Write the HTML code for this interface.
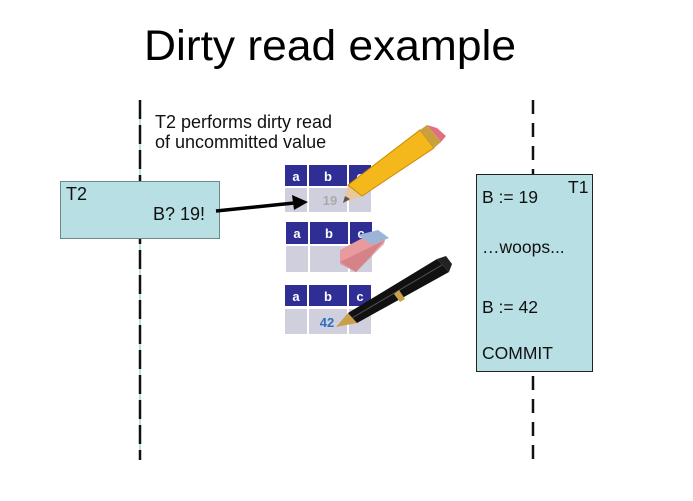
<!DOCTYPE html>
<html><head><meta charset="utf-8"><style>
html,body{margin:0;padding:0;background:#fff;}
svg{display:block;font-family:"Liberation Sans",Arial,sans-serif;}
</style></head><body>
<svg width="693" height="501" viewBox="0 0 693 501" xmlns="http://www.w3.org/2000/svg">
<text x="144" y="60" font-size="43" textLength="372" lengthAdjust="spacingAndGlyphs" fill="#000">Dirty read example</text>
<!-- lifelines -->
<line x1="140" y1="100" x2="140" y2="460" stroke="#b8e0e4" stroke-width="2"/>
<line x1="140" y1="100" x2="140" y2="460" stroke="#111" stroke-width="2.5" stroke-dasharray="19,6"/>
<line x1="533" y1="100" x2="533" y2="461" stroke="#111" stroke-width="2.5" stroke-dasharray="14,9"/>
<text x="155" y="128" font-size="18" fill="#111">T2 performs dirty read</text>
<text x="155" y="148" font-size="18" fill="#111">of uncommitted value</text>
<!-- T2 box -->
<rect x="60.5" y="181.5" width="159" height="57" fill="#b8e0e4" stroke="#6a8a8c" stroke-width="1"/>
<text x="66" y="200" font-size="18" fill="#111">T2</text>
<text x="153" y="220" font-size="18" fill="#111">B? 19!</text>
<!-- T1 box -->
<rect x="476.5" y="174.5" width="116" height="197" fill="#b8e0e4" stroke="#222" stroke-width="1"/>
<text x="568" y="193" font-size="17.5" fill="#111">T1</text>
<text x="482" y="203" font-size="17.5" fill="#111">B := 19</text>
<text x="482" y="253" font-size="17.5" fill="#111">…woops...</text>
<text x="482" y="313" font-size="17.5" fill="#111">B := 42</text>
<text x="482" y="359" font-size="17.5" fill="#111">COMMIT</text>
<!-- tables -->
<g font-size="13" font-weight="bold" fill="#fff" text-anchor="middle">
<g>
<rect x="285" y="165" width="22" height="21" fill="#2e2e94"/><rect x="309" y="165" width="38" height="21" fill="#2e2e94"/><rect x="349" y="165" width="22" height="21" fill="#2e2e94"/>
<rect x="285" y="188" width="22" height="24" fill="#cfcfdd"/><rect x="309" y="188" width="38" height="24" fill="#cfcfdd"/><rect x="349" y="188" width="22" height="24" fill="#cfcfdd"/>
<text x="296" y="181">a</text><text x="328" y="181">b</text><text x="360" y="181">c</text>
<text x="330" y="205" fill="#aaa">19</text>
</g>
<g>
<rect x="286" y="222" width="22" height="22" fill="#2e2e94"/><rect x="310" y="222" width="38" height="22" fill="#2e2e94"/><rect x="350" y="222" width="22" height="22" fill="#2e2e94"/>
<rect x="286" y="246" width="22" height="26" fill="#cfcfdd"/><rect x="310" y="246" width="38" height="26" fill="#cfcfdd"/><rect x="350" y="246" width="22" height="26" fill="#cfcfdd"/>
<text x="297" y="238">a</text><text x="329" y="238">b</text><text x="361" y="238">c</text>
</g>
<g>
<rect x="285" y="285" width="22" height="21" fill="#2e2e94"/><rect x="309" y="285" width="38" height="21" fill="#2e2e94"/><rect x="349" y="285" width="22" height="21" fill="#2e2e94"/>
<rect x="285" y="309" width="22" height="25" fill="#cfcfdd"/><rect x="309" y="309" width="38" height="25" fill="#cfcfdd"/><rect x="349" y="309" width="22" height="25" fill="#cfcfdd"/>
<text x="296" y="301">a</text><text x="328" y="301">b</text><text x="360" y="301">c</text>
<text x="327" y="327" fill="#2a6fc0">42</text>
</g>
</g>
<!-- arrow -->
<line x1="216" y1="211" x2="294" y2="203" stroke="#000" stroke-width="3.5"/>
<polygon points="308,202 292,195 294,210" fill="#000"/>
<!-- pencil -->
<g>
<polygon points="343,203 348,185 362,196" fill="#e8c89a"/>
<polygon points="343,203 345,196 350,199" fill="#555"/>
<polygon points="348,185 420,130 434,148 362,196" fill="#f4b81c" stroke="#c98a00" stroke-width="1"/>
<polygon points="420,130 427,125 441,142 434,148" fill="#c8a040"/>
<polygon points="427,125 437,128 446,136 441,142" fill="#e07080"/>
</g>
<!-- eraser -->
<g>
<polygon points="340,250 372,233 385,240 356,272 340,264" fill="#e89a9e"/>
<polygon points="358,235 378,230 389,238 372,245" fill="#9bb4d8"/>
<polygon points="340,262 356,272 384,244 385,240" fill="#c87478" opacity="0.6"/>
</g>
<!-- pen -->
<g>
<polygon points="336,327 348,313 357,323" fill="#c9a04a"/>
<polygon points="348,313 437,259 449,272 357,323" fill="#111"/>
<line x1="352" y1="318" x2="442" y2="265" stroke="#555" stroke-width="1"/>
<polygon points="394,294 399,290 405,299 400,302" fill="#c9a04a"/>
<polygon points="437,259 446,256 452,264 449,272" fill="#222"/>
</g>
</svg>
</body></html>
